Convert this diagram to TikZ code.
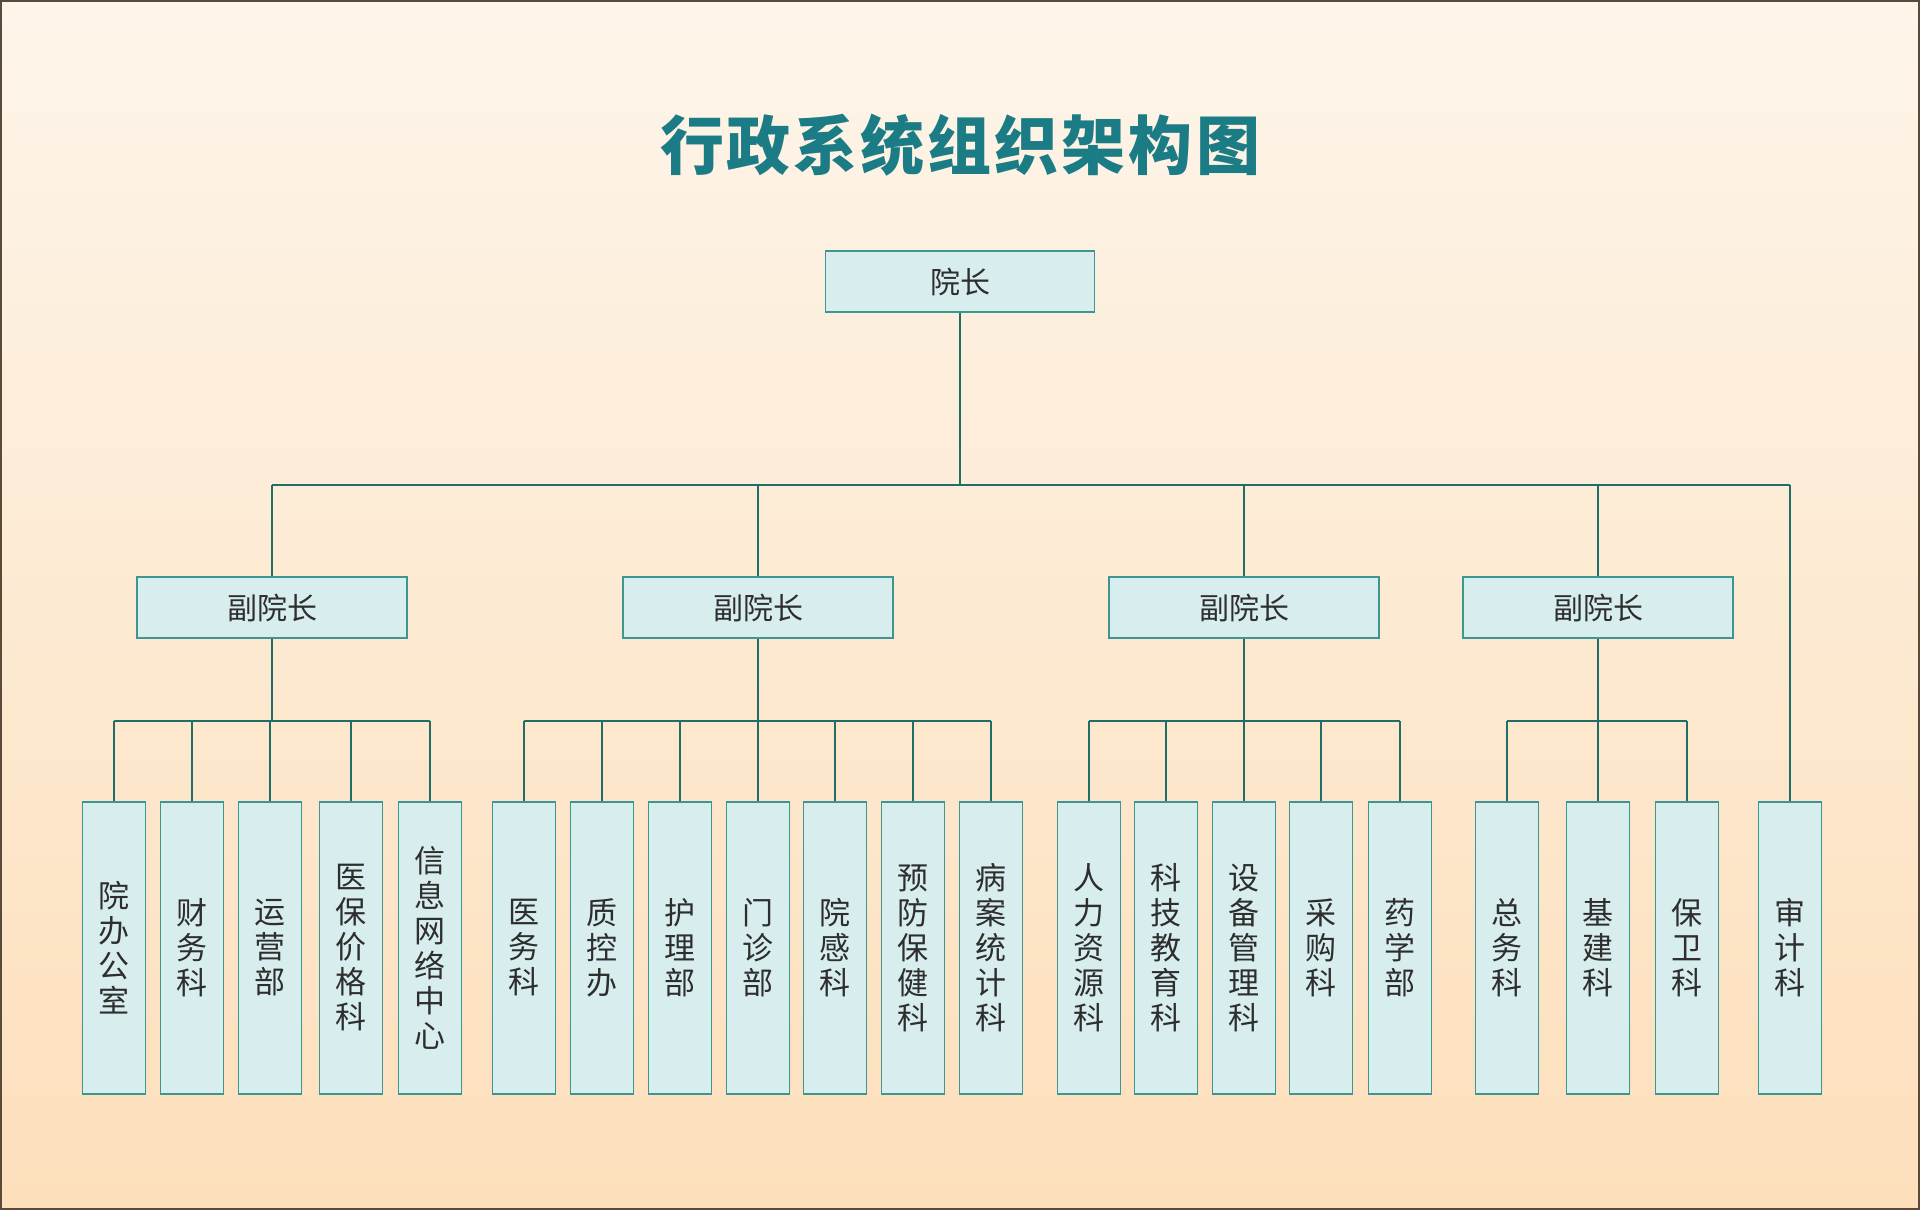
\documentclass[tikz,border=0pt]{standalone}
\usepackage{fontspec}
\setmainfont{Noto Sans CJK SC}
\newfontfamily\titlefont{Noto Sans CJK SC}
\usetikzlibrary{calc}
\definecolor{titlec}{HTML}{1B7C85}
\definecolor{connc}{HTML}{1F6E68}
\definecolor{boxline}{HTML}{3D9690}
\definecolor{boxfill}{HTML}{D8EEEE}
\definecolor{txtc}{HTML}{2E2E2E}
\definecolor{bgtop}{HTML}{FDF5EA}
\definecolor{bgbot}{HTML}{FDDFBB}
\definecolor{framec}{HTML}{5A4A3A}
\tikzset{
  conn/.style={draw=connc, line width=2.8pt},
  headbox/.style={draw=boxline, fill=boxfill, line width=1.4pt, minimum width=269pt, minimum height=61pt, inner sep=0pt, text=txtc, font=\fontsize{30}{34}\selectfont},
  leafbox/.style={draw=boxline, fill=boxfill, line width=1.4pt, minimum width=63pt, minimum height=292pt, inner sep=0pt, text=txtc, align=center, font=\fontsize{31}{35}\selectfont},
}
\begin{document}
\begin{tikzpicture}[x=1pt,y=-1pt]
\useasboundingbox (0,0) rectangle (1920,1210);
\shade[top color=bgtop, bottom color=bgbot] (0,0) rectangle (1920,1210);
\draw[framec, line width=2pt] (1,1) rectangle (1919,1209);

\node[text=titlec, font=\titlefont\bfseries\fontsize{64}{70}\selectfont] (title) at (960,145)
  {行\hspace{3pt}政\hspace{3pt}系\hspace{3pt}统\hspace{3pt}组\hspace{3pt}织\hspace{3pt}架\hspace{3pt}构\hspace{3pt}图};

\coordinate (busy) at (0,485);
\coordinate (suby) at (0,721);

\node[headbox] (top) at (960,281.5) {院长};
\node[headbox, minimum width=270pt] (vp1) at (272,607.5) {副院长};
\node[headbox, minimum width=270pt] (vp2) at (758,607.5) {副院长};
\node[headbox, minimum width=270pt] (vp3) at (1244,607.5) {副院长};
\node[headbox, minimum width=270pt] (vp4) at (1598,607.5) {副院长};

% group 1
\node[leafbox] (a1) at (114,948) {院\\办\\公\\室};
\node[leafbox] (a2) at (192,948) {财\\务\\科};
\node[leafbox] (a3) at (270,948) {运\\营\\部};
\node[leafbox] (a4) at (351,948) {医\\保\\价\\格\\科};
\node[leafbox] (a5) at (430,948) {信\\息\\网\\络\\中\\心};
% group 2
\node[leafbox] (b1) at (524,948) {医\\务\\科};
\node[leafbox] (b2) at (602,948) {质\\控\\办};
\node[leafbox] (b3) at (680,948) {护\\理\\部};
\node[leafbox] (b4) at (758,948) {门\\诊\\部};
\node[leafbox] (b5) at (835,948) {院\\感\\科};
\node[leafbox] (b6) at (913,948) {预\\防\\保\\健\\科};
\node[leafbox] (b7) at (991,948) {病\\案\\统\\计\\科};
% group 3
\node[leafbox] (c1) at (1089,948) {人\\力\\资\\源\\科};
\node[leafbox] (c2) at (1166,948) {科\\技\\教\\育\\科};
\node[leafbox] (c3) at (1244,948) {设\\备\\管\\理\\科};
\node[leafbox] (c4) at (1321,948) {采\\购\\科};
\node[leafbox] (c5) at (1400,948) {药\\学\\部};
% group 4
\node[leafbox] (d1) at (1507,948) {总\\务\\科};
\node[leafbox] (d2) at (1598,948) {基\\建\\科};
\node[leafbox] (d3) at (1687,948) {保\\卫\\科};
\node[leafbox] (aud) at (1790,948) {审\\计\\科};

% top level connectors
\draw[conn] (top.south) -- (top.south |- busy);
\draw[conn] (vp1.north |- busy) -- (aud.north |- busy);
\foreach \v in {vp1,vp2,vp3,vp4} \draw[conn] (\v.north) -- (\v.north |- busy);
\draw[conn] (aud.north) -- (aud.north |- busy);

% vp to sub bus
\foreach \v in {vp1,vp2,vp3,vp4} \draw[conn] (\v.south) -- (\v.south |- suby);
\draw[conn] (a1.north |- suby) -- (a5.north |- suby);
\draw[conn] (b1.north |- suby) -- (b7.north |- suby);
\draw[conn] (c1.north |- suby) -- (c5.north |- suby);
\draw[conn] (d1.north |- suby) -- (d3.north |- suby);
\foreach \l in {a1,a2,a3,a4,a5,b1,b2,b3,b4,b5,b6,b7,c1,c2,c3,c4,c5,d1,d2,d3}
  \draw[conn] (\l.north) -- (\l.north |- suby);
\end{tikzpicture}
\end{document}
